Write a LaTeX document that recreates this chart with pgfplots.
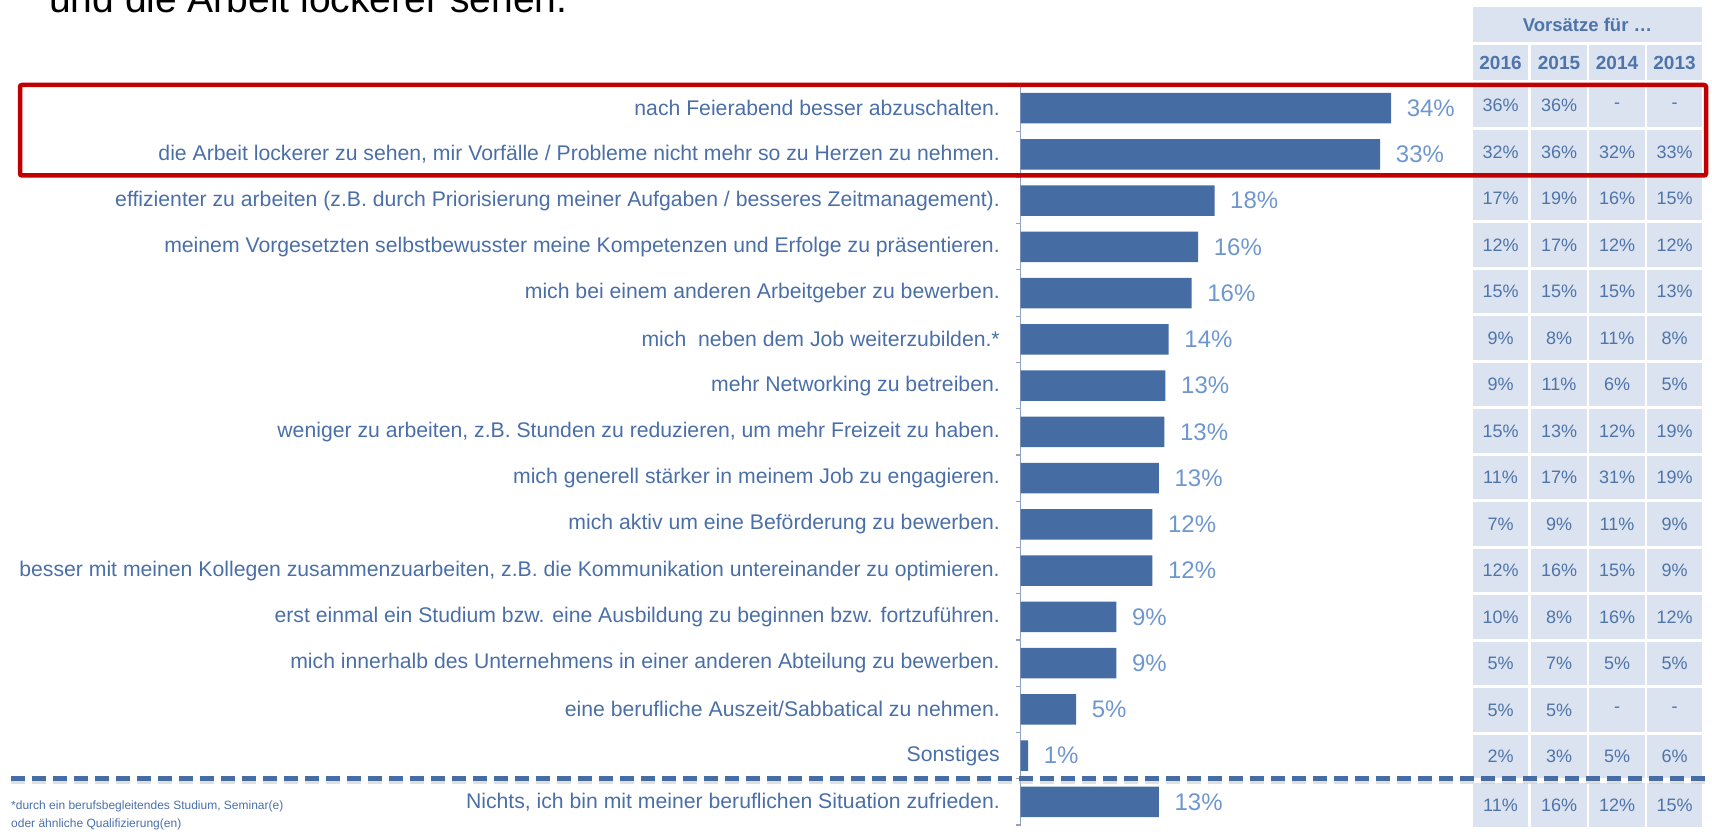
\documentclass[border=0pt]{standalone}
\usepackage{pgfplots}
\pgfplotsset{compat=1.18}
\usepackage{fontspec}
\setmainfont{Liberation Sans}
\definecolor{barblue}{HTML}{466CA4}
\definecolor{labelblue}{HTML}{4A6FA8}
\definecolor{valblue}{HTML}{6F97CF}
\definecolor{tabtext}{HTML}{4F74AA}
\definecolor{tabfill}{HTML}{DAE3EF}
\definecolor{axisgray}{HTML}{8FA3C5}
\definecolor{boxred}{HTML}{C00000}
\begin{document}
\begin{tikzpicture}[x=1pt,y=1pt]
\clip (0,0) rectangle (1712,831);
% title (cut off at the top)
\node[anchor=base west, inner sep=0pt, font=\fontsize{39}{45}\selectfont, text=black] at (49,831-13) {und die Arbeit lockerer sehen.};
\begin{axis}[
  at={(1020.5pt,6.1pt)}, anchor=south west,
  scale only axis, width=392.4pt, height=740pt,
  xmin=0, xmax=36, ymin=-0.5, ymax=15.5,
  xbar, bar width=30.5pt,
  axis x line=none, axis y line*=left,
  axis line style={axisgray, line width=1.5pt},
  tick style={axisgray, line width=1.2pt},
  xtick=\empty,
  ytick={0,...,15},
  major tick length=0pt,
  minor ytick={-0.5,0.5,...,15.5},
  minor tick length=5pt,
  tick align=outside,
  clip=false,
  /pgf/number format/assume math mode=true,
  yticklabel style={font=\fontsize{21.2}{24}\selectfont, text=labelblue, inner sep=0pt, xshift=-20.5pt},
  yticklabels={
    {Nichts, ich bin mit meiner beruflichen Situation zufrieden.},
    {Sonstiges},
    {eine berufliche Auszeit/Sabbatical zu nehmen.},
    {mich innerhalb des Unternehmens in einer anderen Abteilung zu bewerben.},
    {erst einmal ein Studium bzw. eine Ausbildung zu beginnen bzw. fortzuführen.},
    {besser mit meinen Kollegen zusammenzuarbeiten, z.B. die Kommunikation untereinander zu optimieren.},
    {mich aktiv um eine Beförderung zu bewerben.},
    {mich generell stärker in meinem Job zu engagieren.},
    {weniger zu arbeiten, z.B. Stunden zu reduzieren, um mehr Freizeit zu haben.},
    {mehr Networking zu betreiben.},
    {mich\ \ neben dem Job weiterzubilden.*},
    {mich bei einem anderen Arbeitgeber zu bewerben.},
    {meinem Vorgesetzten selbstbewusster meine Kompetenzen und Erfolge zu präsentieren.},
    {effizienter zu arbeiten (z.B. durch Priorisierung meiner Aufgaben / besseres Zeitmanagement).},
    {die Arbeit lockerer zu sehen, mir Vorfälle / Probleme nicht mehr so zu Herzen zu nehmen.},
    {nach Feierabend besser abzuschalten.}
  },
  nodes near coords={\pgfmathprintnumber[fixed,precision=0]{\pgfplotspointmeta}\%},
  every node near coord/.append style={font=\fontsize{24}{28}\selectfont, text=valblue, inner sep=0pt, xshift=15.5pt},
]
\addplot[fill=barblue, draw=none] coordinates {
  (12.7,0) (0.7,1) (5.1,2) (8.8,3) (8.8,4) (12.1,5) (12.1,6) (12.7,7)
  (13.2,8) (13.3,9) (13.6,10) (15.7,11) (16.3,12) (17.8,13) (33,14) (34,15)
};
\end{axis}
% table on the right
\fill[tabfill] (1473,831-41.7) rectangle (1702,831-7.3);
\node[font=\bfseries\fontsize{18.5}{21}\selectfont, text=tabtext] at (1587.5,831-24.5) {Vorsätze für …};
\foreach \cx/\yr in {1500.5/2016,1559/2015,1617/2014,1674.5/2013}{
  \fill[tabfill] (\cx-27.75,831-80) rectangle (\cx+27.75,831-45);
  \node[font=\bfseries\fontsize{19}{21}\selectfont, text=tabtext] at (\cx,831-62.5) {\yr};
}
\foreach \r/\a/\b/\c/\d in {
  0/36\%/36\%/-/-,
  1/32\%/36\%/32\%/33\%,
  2/17\%/19\%/16\%/15\%,
  3/12\%/17\%/12\%/12\%,
  4/15\%/15\%/15\%/13\%,
  5/9\%/8\%/11\%/8\%,
  6/9\%/11\%/6\%/5\%,
  7/15\%/13\%/12\%/19\%,
  8/11\%/17\%/31\%/19\%,
  9/7\%/9\%/11\%/9\%,
  10/12\%/16\%/15\%/9\%,
  11/10\%/8\%/16\%/12\%,
  12/5\%/7\%/5\%/5\%,
  13/5\%/5\%/-/-,
  14/2\%/3\%/5\%/6\%,
  15/11\%/16\%/12\%/15\%}{
  \pgfmathsetmacro\yc{831-(\r==15 ? 805 : 105.5+46.5*\r)}
  \foreach \cx/\v in {1500.5/\a,1559/\b,1617/\c,1674.5/\d}{
    \fill[tabfill] (\cx-27.75,\yc-21.75) rectangle (\cx+27.75,\yc+21.75);
    \node[font=\fontsize{18}{21}\selectfont, text=tabtext] at (\cx,\yc) {\v};
  }
}
% red highlight box
\draw[boxred, line width=4.5pt, rounded corners=2pt] (20,831-85) rectangle (1706,831-175.5);
% dashed separator with shadow
\draw[gray!40, line width=5.5pt, dash pattern=on 14pt off 7pt, opacity=0.6] (11,831-781) -- (1709,831-781);
\draw[barblue, line width=5.5pt, dash pattern=on 14pt off 7pt] (11,831-778.3) -- (1709,831-778.3);
% footnote
\node[anchor=base west, inner sep=0pt, font=\fontsize{12}{14}\selectfont, text=labelblue] at (11,831-809.5) {*durch ein berufsbegleitendes Studium, Seminar(e)};
\node[anchor=base west, inner sep=0pt, font=\fontsize{12}{14}\selectfont, text=labelblue] at (11,831-827) {oder ähnliche Qualifizierung(en)};
\end{tikzpicture}
\end{document}
